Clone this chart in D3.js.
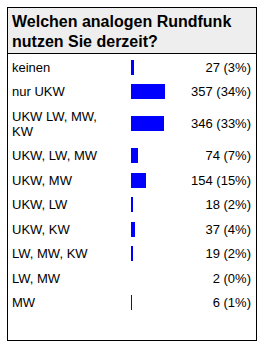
<!DOCTYPE html>
<html>
<head>
<meta charset="utf-8">
<script src="https://cdn.jsdelivr.net/npm/d3@7"></script>
<style>
  body { margin: 0; background: #fff; }
  text { font-family: "Liberation Sans", Arial, sans-serif; }
</style>
</head>
<body>
<div id="chart"></div>
<script>
const titleLines = ["Welchen analogen Rundfunk", "nutzen Sie derzeit?"];
const categories = ["keinen", "nur UKW", "UKW LW, MW, KW", "UKW, LW, MW", "UKW, MW",
  "UKW, LW", "UKW, KW", "LW, MW, KW", "LW, MW", "MW"];
const votes = [27, 357, 346, 74, 154, 18, 37, 19, 2, 6];

const W = 269, H = 347;
const box = { left: 7.5, top: 7.5, right: 256.5, bottom: 340.5 };
const headerBottom = 53.5;

const svg = d3.select("#chart")
  .append("svg")
  .attr("width", W)
  .attr("height", H);

// frame + title area
svg.append("rect")
  .attr("x", box.left)
  .attr("y", box.top)
  .attr("width", box.right - box.left)
  .attr("height", headerBottom - box.top)
  .attr("fill", "#eeeeee");

svg.append("line")
  .attr("x1", box.left).attr("x2", box.right)
  .attr("y1", headerBottom).attr("y2", headerBottom)
  .attr("stroke", "#000").attr("stroke-width", 1);

svg.append("rect")
  .attr("x", box.left)
  .attr("y", box.top)
  .attr("width", box.right - box.left)
  .attr("height", box.bottom - box.top)
  .attr("fill", "none")
  .attr("stroke", "#000")
  .attr("stroke-width", 1);

svg.selectAll(".title")
  .data(titleLines)
  .join("text")
  .attr("class", "title")
  .attr("x", 12)
  .attr("y", (d, i) => 27 + i * 20)
  .style("font-size", "16px")
  .style("font-weight", "bold")
  .attr("fill", "#000")
  .text(d => d);

// wrap labels to the label column
const labelWidth = 106;
const probe = svg.append("text").style("font-size", "13px");
function wrap(str) {
  const words = str.split(" ");
  const lines = [];
  let cur = "";
  words.forEach(w => {
    const test = cur ? cur + " " + w : w;
    probe.text(test);
    if (cur && probe.node().getComputedTextLength() > labelWidth) {
      lines.push(cur);
      cur = w;
    } else {
      cur = test;
    }
  });
  lines.push(cur);
  return lines;
}
const wrapped = categories.map(wrap);
probe.remove();

// row positions from line counts
const rowH = 24.5, lineH = 15;
let acc = headerBottom + 1.25;
const tops = [], heights = [];
wrapped.forEach(lines => {
  const h = rowH + lineH * (lines.length - 1);
  tops.push(acc);
  heights.push(h);
  acc += h;
});
const yTop = d3.scaleOrdinal().domain(categories).range(tops);
const yH = d3.scaleOrdinal().domain(categories).range(heights);
const yMid = c => yTop(c) + yH(c) / 2;

const total = d3.sum(votes);
const x = d3.scaleLinear().domain([0, total]).range([0, 100]);
const barX = 131, barH = 15;

const rows = svg.selectAll(".row")
  .data(categories.map((c, i) => ({ cat: c, v: votes[i], lines: wrapped[i] })))
  .join("g")
  .attr("class", "row");

rows.each(function (d) {
  const g = d3.select(this);
  const n = d.lines.length;
  g.selectAll("text.lbl")
    .data(d.lines)
    .join("text")
    .attr("class", "lbl")
    .attr("x", 12)
    .attr("y", (l, i) => yMid(d.cat) + (i - (n - 1) / 2) * lineH + 4.5)
    .style("font-size", "13px")
    .attr("fill", "#000")
    .text(l => l);
});

rows.append("rect")
  .attr("x", barX)
  .attr("y", d => Math.round(yMid(d.cat) - barH / 2))
  .attr("width", d => Math.round(x(d.v)))
  .attr("height", barH)
  .attr("fill", "#0000ff");

rows.append("text")
  .attr("x", 251)
  .attr("y", d => yMid(d.cat) + 4.5)
  .attr("text-anchor", "end")
  .style("font-size", "13px")
  .attr("fill", "#000")
  .text(d => `${d.v} (${Math.round(d.v / total * 100)}%)`);
</script>
</body>
</html>
